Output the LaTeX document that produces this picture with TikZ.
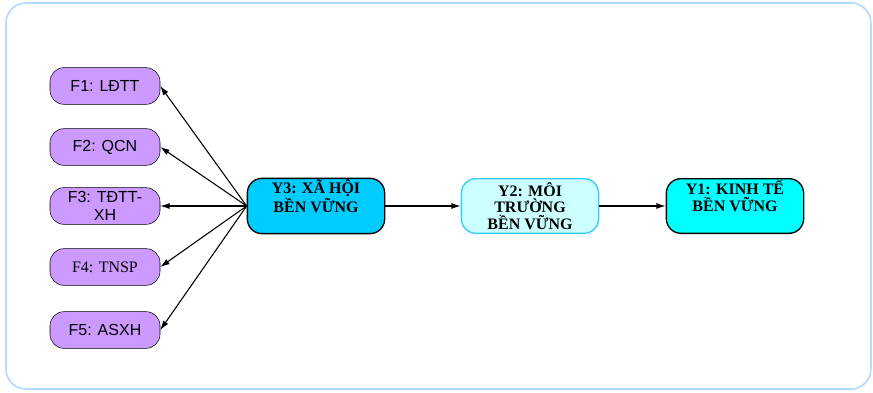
\documentclass[tikz,border=0pt]{standalone}
\usepackage{fontspec}
\setmainfont{Liberation Serif}
\newfontfamily\arialfont{Liberation Sans}
\usetikzlibrary{arrows.meta}
\definecolor{framecol}{HTML}{B3D9FF}
\definecolor{ffill}{HTML}{CC99FF}
\definecolor{ythree}{HTML}{00CCFF}
\definecolor{ytwo}{HTML}{CCFFFF}
\definecolor{ytwoline}{HTML}{33CCFF}
\definecolor{yone}{HTML}{00FFFF}
\tikzset{
  fbox/.style={draw, fill=ffill, rounded corners=10.5pt, minimum width=82.5pt,
    minimum height=27.5pt, inner sep=1pt, align=center,
    font=\arialfont\fontsize{12}{13}\selectfont},
  ybox/.style={draw, line width=1pt, rounded corners=11pt, minimum width=103pt,
    minimum height=41pt, inner ysep=1pt, align=center,
    font=\bfseries\fontsize{12}{12.5}\selectfont},
  ytop/.style={text depth=15pt},
  link/.style={-{Latex[length=7pt,width=4.5pt]}, line width=0.8pt}
}
\begin{document}
\begin{tikzpicture}[x=0.75pt,y=-0.75pt]
  \useasboundingbox (0,0) rectangle (873,392);
  \draw[framecol, line width=1.2pt, rounded corners=15pt] (6,3) rectangle (871,389);
  % factors
  \node[fbox] (f1) at (105,86) {F1: LĐTT};
  \node[fbox] (f2) at (105,147) {F2: QCN};
  \node[fbox] (f3) at (105,206) {F3: TĐTT-\\XH};
  \node[fbox, font=\fontsize{12}{13}\selectfont] (f4) at (105,267) {F4: TNSP};
  \node[fbox] (f5) at (105,330) {F5: ASXH};
  % goals
  \node[ybox, ytop, fill=ythree] (y3) at (316,206) {Y3: XÃ HỘI\\BỀN VỮNG};
  \node[ybox, fill=ytwo, draw=ytwoline] (y2) at (530,206) {Y2: MÔI\\TRƯỜNG\\BỀN VỮNG};
  \node[ybox, ytop, fill=yone] (y1) at (735,206) {Y1: KINH TẾ\\BỀN VỮNG};
  \foreach \f in {f1,f2,f3,f4,f5}
    \draw[link] (y3.west) -- (\f.east);
  \draw[link] (y3) -- (y2);
  \draw[link] (y2) -- (y1);
\end{tikzpicture}
\end{document}
